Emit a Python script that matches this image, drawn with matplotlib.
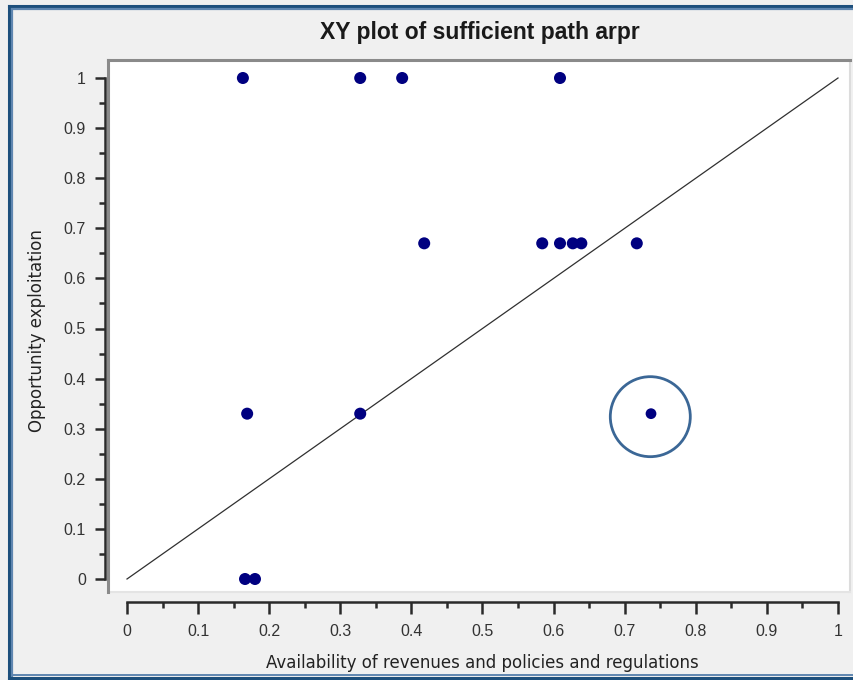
#!/usr/bin/env python
"""XY plot of sufficient path arpr."""

import matplotlib
matplotlib.use('Agg')
import matplotlib.pyplot as plt
from matplotlib.lines import Line2D
from matplotlib.patches import Ellipse


# data
X_VALUES = [0.163, 0.328, 0.387, 0.609,
            0.418, 0.584, 0.609, 0.627, 0.639, 0.717,
            0.169, 0.328,
            0.166, 0.180]
Y_VALUES = [1.0, 1.0, 1.0, 1.0,
            0.67, 0.67, 0.67, 0.67, 0.67, 0.67,
            0.33, 0.33,
            0.0, 0.0]
HIGHLIGHT = (0.737, 0.33)
TICKS = [0, 0.1, 0.2, 0.3, 0.4, 0.5, 0.6, 0.7, 0.8, 0.9, 1]
TICK_LABELS = ['0', '0.1', '0.2', '0.3', '0.4', '0.5', '0.6', '0.7',
               '0.8', '0.9', '1']

TITLE = "XY plot of sufficient path arpr"
XLABEL = "Availability of revenues and policies and regulations"
YLABEL = "Opportunity exploitation"

W, H = 854, 680


def px(x0, y0, x1, y1):
    """Convert pixel box (top-left origin) to figure fraction rect."""
    return [x0/W, 1 - y1/H, (x1-x0)/W, (y1-y0)/H]


def hline(fig, x0, x1, y, color, lw):
    fig.add_artist(Line2D([x0/W, x1/W], [1 - y/H, 1 - y/H],
                          transform=fig.transFigure, color=color, lw=lw))


def vline(fig, x, y0, y1, color, lw):
    fig.add_artist(Line2D([x/W, x/W], [1 - y0/H, 1 - y1/H],
                          transform=fig.transFigure, color=color, lw=lw))


def main():
    plt.rc('font', family=['Liberation Sans', 'DejaVu Sans'])
    fig = plt.figure(figsize=(W/100, H/100), dpi=100, facecolor='#f0f0f0')

    # outer window frame
    dark, light = '#1d4f7c', '#5f86b0'
    vline(fig, 9, 6, 680, dark, 2.2)
    vline(fig, 12, 9, 676, light, 1.6)
    hline(fig, 9, 854, 6, dark, 2.2)
    hline(fig, 12, 854, 9, light, 1.6)
    hline(fig, 9, 854, 677.5, dark, 2.2)
    hline(fig, 12, 854, 674.5, light, 1.4)

    # plot area
    ax = fig.add_axes(px(108, 60, 850, 592))
    ax.set_facecolor('white')
    ax.set_xlim((108 - 127) / 711.0, (850 - 127) / 711.0)
    ax.set_ylim(-(592 - 579) / 501.0, 1 + (78 - 60) / 501.0)

    for side in ['top', 'left']:
        ax.spines[side].set_color('#8a8a8a')
        ax.spines[side].set_linewidth(2.2)
    for side in ['right', 'bottom']:
        ax.spines[side].set_visible(False)

    # light edges on the other sides
    ax.add_artist(Line2D([1, 1], [0, 1], transform=ax.transAxes,
                         color='#dcdcdc', lw=1.5, clip_on=False))
    ax.add_artist(Line2D([0, 1], [0, 0], transform=ax.transAxes,
                         color='#e4e4e4', lw=1.5, clip_on=False))

    # diagonal
    ax.plot([0, 1], [0, 1], color='#303030', lw=0.9)

    # points
    ax.scatter(X_VALUES, Y_VALUES, s=75, color='#000080', zorder=3,
               edgecolors='none')
    ax.scatter([HIGHLIGHT[0]], [HIGHLIGHT[1]], s=60, color='#000080',
               zorder=3, edgecolors='none')
    ax.add_patch(Ellipse((HIGHLIGHT[0] - 0.001, HIGHLIGHT[1] - 0.006),
                         width=80/711.0, height=80/501.0, fill=False,
                         edgecolor='#3b6796', lw=2, zorder=4))

    ax.set_xticks([])
    ax.set_yticks([])

    # y axis
    ay = fig.add_axes(px(105, 78, 108, 579))
    ay.patch.set_visible(False)
    ay.set_ylim(0, 1)
    for side in ['top', 'right', 'bottom']:
        ay.spines[side].set_visible(False)
    ay.spines['left'].set_color('#2a2a2a')
    ay.spines['left'].set_linewidth(1.8)
    ay.set_xticks([])
    ay.set_yticks(TICKS)
    ay.set_yticklabels(TICK_LABELS)
    ay.set_yticks([t + 0.05 for t in TICKS[:-1]], minor=True)
    ay.tick_params(axis='y', which='major', length=10*0.72, width=1.8,
                   color='#2a2a2a', pad=6.5, labelsize=11.5,
                   labelcolor='#333333')
    ay.tick_params(axis='y', which='minor', length=6*0.72, width=1.8,
                   color='#2a2a2a')

    # x axis
    axx = fig.add_axes(px(127, 595, 838, 602))
    axx.patch.set_visible(False)
    axx.set_xlim(0, 1)
    for side in ['top', 'right', 'left']:
        axx.spines[side].set_visible(False)
    axx.spines['bottom'].set_color('#2a2a2a')
    axx.spines['bottom'].set_linewidth(1.8)
    axx.set_yticks([])
    axx.set_xticks(TICKS)
    axx.set_xticklabels(TICK_LABELS)
    axx.set_xticks([t + 0.05 for t in TICKS[:-1]], minor=True)
    axx.tick_params(axis='x', which='major', length=12*0.72, width=1.8,
                    color='#2a2a2a', pad=7, labelsize=11.5,
                    labelcolor='#333333')
    axx.tick_params(axis='x', which='minor', length=6*0.72, width=1.8,
                    color='#2a2a2a')

    # texts
    fig.text(480/W, 1 - 33/H, TITLE, ha='center', va='center',
             fontsize=16.5, weight='bold', color='#1a1a1a')
    fig.text(482/W, 1 - 663/H, XLABEL, ha='center', va='center',
             fontsize=12, color='#222222', family='DejaVu Sans')
    fig.text(37/W, 1 - 331/H, YLABEL, ha='center', va='center',
             rotation=90, fontsize=12, color='#222222',
             family='DejaVu Sans')

    fig.savefig('out.png', dpi=100, facecolor=fig.get_facecolor())
    plt.close(fig)


if __name__ == '__main__':
    main()
